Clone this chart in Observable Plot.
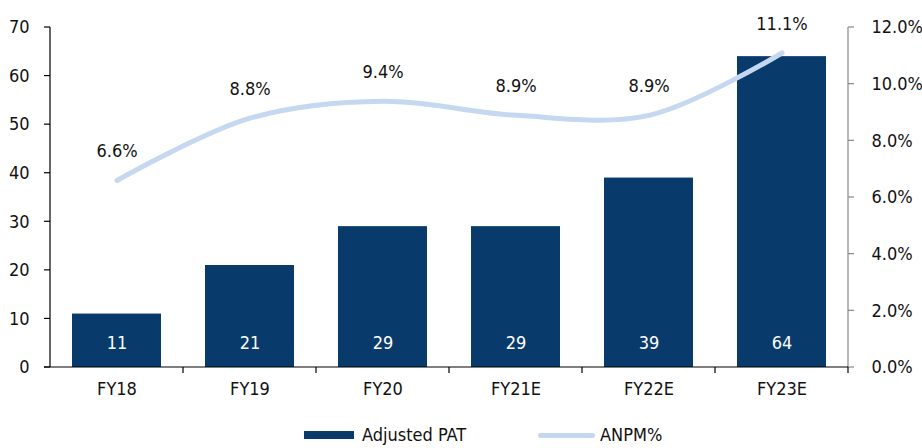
<!DOCTYPE html>
<html>
<head>
<meta charset="utf-8">
<script src="https://cdn.jsdelivr.net/npm/d3@7"></script>
<script src="https://cdn.jsdelivr.net/npm/@observablehq/plot@0.6"></script>
<style>
  html, body { margin: 0; padding: 0; background: #fff; }
  #wrap { position: relative; width: 922px; height: 448px; font-family: "DejaVu Sans Condensed", "Liberation Sans Narrow", sans-serif; }
  .leg { position: absolute; font-size: 18px; color: #111; line-height: 1; }
</style>
</head>
<body>
<div id="wrap"></div>
<script>
const categories = ["FY18", "FY19", "FY20", "FY21E", "FY22E", "FY23E"];
const adjustedPAT = [11, 21, 29, 29, 39, 64];
const anpm = [6.6, 8.8, 9.4, 8.9, 8.9, 11.1];
const leftTicks = [0, 10, 20, 30, 40, 50, 60, 70];
const rightTicks = [0, 2, 4, 6, 8, 10, 12];

const Y_MAX = 70, P_MAX = 12;
const toY = p => p * Y_MAX / P_MAX;
const data = categories.map((c, i) => ({cat: c, pat: adjustedPAT[i], pct: anpm[i], py: toY(anpm[i])}));

const barColor = "#083a6b";
const lineColor = "#c6d8ef";
const font = '"DejaVu Sans Condensed", "Liberation Sans Narrow", sans-serif';
const FS = 18;

// axis lines and tick marks, positioned with the chart's scales
function axisFrame(index, scales) {
  const x = scales.x, y = scales.y;
  const bw = typeof x.bandwidth === "function" ? x.bandwidth() : x.bandwidth;
  const step = typeof x.step === "function" ? x.step() : (x(categories[1]) - x(categories[0]));
  const gap = (step - bw) / 2;
  const xl = x(categories[0]) - gap;
  const xr = x(categories[categories.length - 1]) + bw + gap;
  const yb = y(0), yt = y(Y_MAX);
  const g = d3.create("svg:g").attr("stroke-width", 1.2).attr("fill", "none");
  const ln = (x1, y1, x2, y2, c) => g.append("line").attr("x1", x1).attr("y1", y1).attr("x2", x2).attr("y2", y2).attr("stroke", c);
  ln(xl, yt, xl, yb, "#000");
  ln(xr, yt, xr, yb, "#888");
  for (const t of leftTicks) ln(xl - 6, y(t), xl, y(t), "#000");
  for (const t of rightTicks) ln(xr, y(toY(t)), xr + 6, y(toY(t)), "#888");
  for (let i = 1; i <= categories.length; i++) {
    const xv = xl + i * step;
    ln(xv, yb, xv, yb + 6, "#000");
  }
  ln(xl - 6, yb, xr, yb, "#000");
  return g.node();
}

const chart = Plot.plot({
  width: 922,
  height: 410,
  marginLeft: 48,
  marginRight: 71,
  marginTop: 27,
  marginBottom: 43,
  style: {fontFamily: font, fontSize: FS + "px", color: "#111", background: "#fff"},
  x: {domain: categories, paddingInner: 0.33, paddingOuter: 0.165, axis: null, label: null},
  y: {domain: [0, Y_MAX], axis: null, label: null},
  marks: [
    Plot.barY(data, {x: "cat", y: "pat", fill: barColor}),
    Plot.text(data, {x: "cat", y: 0, text: d => String(d.pat), dy: -24, fill: "#fff", fontSize: FS}),
    Plot.line(data, {x: "cat", y: "py", stroke: lineColor, strokeWidth: 5, curve: "catmull-rom", strokeLinecap: "round"}),
    Plot.text(data, {x: "cat", y: "py", text: d => d.pct.toFixed(1) + "%", dy: -29, fill: "#111", fontSize: FS}),
    Plot.axisY({ticks: leftTicks, anchor: "left", label: null, tickSize: 0, tickPadding: 19, tickFormat: d => String(d), fill: "#111", fontSize: FS}),
    Plot.axisY({ticks: rightTicks.map(toY), anchor: "right", label: null, tickSize: 0, tickPadding: 20, tickFormat: d => (d * P_MAX / Y_MAX).toFixed(1) + "%", fill: "#111", fontSize: FS}),
    Plot.axisX({anchor: "bottom", label: null, tickSize: 0, tickPadding: 15, fill: "#111", fontSize: FS}),
    axisFrame
  ]
});
const wrap = document.getElementById("wrap");
wrap.appendChild(chart);

// legend
const legend = [
  {type: "rect", x: 304, w: 50, color: barColor, label: "Adjusted PAT", tx: 362},
  {type: "line", x: 538, w: 57, color: lineColor, label: "ANPM%", tx: 600}
];
for (const l of legend) {
  const sw = document.createElement("div");
  sw.style.position = "absolute";
  sw.style.left = l.x + "px";
  sw.style.width = l.w + "px";
  if (l.type === "rect") { sw.style.top = "431px"; sw.style.height = "8px"; }
  else { sw.style.top = "433px"; sw.style.height = "5px"; sw.style.borderRadius = "3px"; }
  sw.style.background = l.color;
  wrap.appendChild(sw);
  const t = document.createElement("div");
  t.className = "leg";
  t.style.left = l.tx + "px";
  t.style.top = "426px";
  t.textContent = l.label;
  wrap.appendChild(t);
}
</script>
</body>
</html>
